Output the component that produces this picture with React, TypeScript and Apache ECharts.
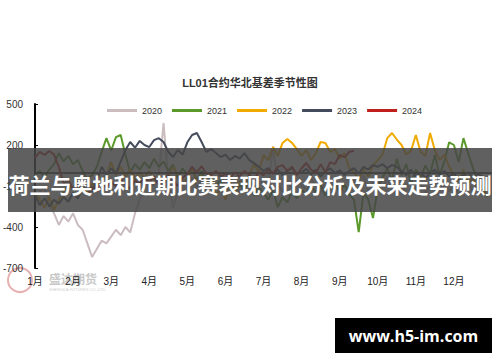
import React, { useEffect, useRef } from "react";
import * as echarts from "echarts";

const monthLabels = ["1月", "2月", "3月", "4月", "5月", "6月", "7月", "8月", "9月", "10月", "11月", "12月"];
const years = ["2020", "2021", "2022", "2023", "2024"];
const colors = ["#cbbcc0", "#5b9a2a", "#f0aa00", "#434b5c", "#c0201d"];
const STEP = 0.125; // sampling step in months (eighth of a month)

const v2020 = [
  -100, -140, -120, -240, -300, -385, -320, -360,
  -300, -385, -420, -520, -620, -560, -500, -520,
  -470, -420, -460, -400, -440, -300, -200, -120,
  -40, -100, -20, 360, -60, -260, -140, -60,
  -90, -40, -110, -60, -130, -80, -40, -100,
  -70, -120, -60, -150, -90, -50, -110, -80,
  -60, -100, 190, -90, -140, -70, -110, -60,
  -90, -130, -50, -100, -150, -80, -120, -60,
  -100, -150, -120, -60, -90, -20, -140, -80,
  -60, -110, -40, -130, -80, -150, -100, -60,
  -120, -80, -150, -100, -60, -130, -90, -140,
  -100, -160, -120, -80, -140, -110, -170, -130,
];
const v2021 = [
  -20, 10, -40, 20, 60, 140, 80, 120,
  60, 90, 10, -50, -20, 40, 150, 250,
  160, 258, 273, 127, 0, 60, 20, 75,
  30, 100, 40, 80, 10, 55, -40, 30,
  -20, 40, -60, 10, -80, -30, -100, -60,
  -120, -70, -150, -90, -130, -60, -170, -110,
  -150, -200, -130, -255, -180, -220, -140, -190,
  -130, -160, -100, -145, -90, -170, -120, -80,
  -140, -90, -160, -200, -437, -150, -200, -334,
  -120, -40, 30, -60, 100, -20, 60, -80,
  20, -40, 50, -10, 127, -20, 80, 220,
  200, 75, 250, 140, 30, -55, -120, -180,
];
const v2022 = [
  -150, -200, -260, -180, -275, -200, -140, -90,
  -130, -60, -110, -150, -80, -120, -55, -20,
  75, -20, 40, -30, 20, -50, 0, -40,
  10, -60, -20, -80, -30, 40, -20, -90,
  -40, 20, -60, -20, -100, -50, -165, -120,
  -200, -90, -140, -60, -100, -20, 60, 0,
  127, 90, 185, 120, 215, 244, 215, 170,
  120, 163, 90, 140, 222, 215, 150, 170,
  100, 140, 30, 0, -50, 20, -30, 50,
  90, 130, 250, 288, 240, 200, 130, 160,
  273, 150, 120, 288, 160, 90, 130, 40,
  -20, -60, 20, -80, -40, -120, -90, -180,
];
const v2023 = [
  -170, -240, -190, -250, -200, -230, -180, -215,
  -150, -190, -120, -90, -140, -60, 40, -20,
  30, -10, 80, 163, 222, 180, 230, 200,
  185, 236, 250, 222, 150, 112, 163, 130,
  220, 273, 288, 222, 150, 170, 141, 112,
  130, 90, 120, 100, 141, 90, 68, 40,
  10, 30, -10, 20, -20, 10, 30, -10,
  0, 25, -15, 20, -30, 5, 30, -5,
  15, -20, 10, 30, -10, 40, 20, 53,
  40, 60, 30, 55, 40, 10, -20, 20,
  -30, 0, -40, -10, 20, -20, 10, -30,
  -10, -50, -20, 0, -40, -10, -30, -60,
];
const v2024 = [
  105, 150, 127, 156, 130, 40, -80, -60,
  -120, -90, -130, -165, -110, -140, -80, -110,
  -70, -100, -50, -90, -120, -60, -80, -40,
  -70, -30, -90, -50, -20, -60, -100, -40,
  -10, 40, 0, 45, -10, -20, 10, -30,
  -10, -40, 0, -30, 10, -20, -50, 0,
  -20, 20, -10, 40, 53, 10, 40, -20,
  30, 68, 20, -5, 60, 0, 75, 60,
  127, 110, 150, 156,
];
const seriesValues = [v2020, v2021, v2022, v2023, v2024];

const yTicks = { min: -700, max: 500, interval: 300 };

export default function App() {
  const ref = useRef<HTMLDivElement>(null);
  useEffect(() => {
    if (!ref.current) return;
    const chart = echarts.init(ref.current, null, { renderer: "svg" });
    const font = "'Liberation Sans', 'Noto Sans CJK SC', sans-serif";
    const series: any[] = years.map((y, k) => ({
      name: y,
      type: "line",
      showSymbol: false,
      symbol: "none",
      data: seriesValues[k].map((v, i) => [1 + i * STEP, v]),
      lineStyle: { color: colors[k], width: 2 },
      itemStyle: { color: colors[k] },
      z: 2 + k,
    }));
    series[3].markLine = {
      silent: true,
      symbol: "none",
      label: { show: false },
      lineStyle: { color: "#000", width: 1.5, type: "solid" },
      data: [{ yAxis: 0 }],
    };
    chart.setOption({
      animation: false,
      textStyle: { fontFamily: font },
      title: {
        text: "LL01合约华北基差季节性图",
        left: "center",
        top: 72,
        textStyle: { fontSize: 11, fontWeight: "bold", color: "#333", fontFamily: font },
      },
      legend: {
        top: 101,
        left: 102,
        icon: "rect",
        itemWidth: 30,
        itemHeight: 3,
        itemGap: 10,
        textStyle: { fontSize: 9, color: "#333", fontFamily: font },
        data: years,
      },
      grid: { left: 35, right: 8, top: 104, bottom: 94, containLabel: false },
      xAxis: {
        type: "value",
        min: 1,
        max: 13,
        interval: 1,
        axisLine: { show: false, onZero: false },
        axisTick: { show: false },
        splitLine: { show: false },
        axisLabel: {
          fontSize: 10,
          color: "#222",
          margin: 8,
          formatter: (v: number) => (v >= 1 && v <= 12 ? monthLabels[Math.round(v) - 1] : ""),
        },
      },
      yAxis: {
        type: "value",
        min: yTicks.min,
        max: yTicks.max,
        interval: yTicks.interval,
        axisLine: { show: true, lineStyle: { color: "#000", width: 2 } },
        axisTick: { show: true, inside: true, length: 3, lineStyle: { color: "#000" } },
        splitLine: { show: false },
        axisLabel: { fontSize: 10, color: "#333", margin: 12 },
      },
      series,
      graphic: [
        {
          type: "circle",
          shape: { cx: 20, cy: 280, r: 12 },
          style: { fill: "none", stroke: "#e8b0b0", lineWidth: 2 },
          z: 0,
          silent: true,
        },
        {
          type: "text",
          left: 49,
          top: 272,
          style: { text: "盛达期货", fill: "#c8c8c8", fontSize: 12, fontWeight: "bold", fontFamily: "'Noto Sans CJK SC', sans-serif" },
          z: 0,
          silent: true,
        },
        {
          type: "text",
          left: 49,
          top: 287,
          style: { text: "SHENGDA FUTURES CO.,LTD", fill: "#d0d0d0", fontSize: 4, fontFamily: font },
          z: 0,
          silent: true,
        },
        {
          type: "rect",
          shape: { x: 8, y: 148, width: 484, height: 64 },
          style: { fill: "rgba(70,70,70,0.86)" },
          z: 100,
          silent: true,
        },
        {
          type: "text",
          x: 250,
          y: 184,
          style: {
            text: "荷兰与奥地利近期比赛表现对比分析及未来走势预测",
            fill: "#fff",
            fontSize: 21,
            fontWeight: "bold",
            fontFamily: "'Noto Sans CJK SC', sans-serif",
            align: "center",
            verticalAlign: "middle",
          },
          z: 101,
          silent: true,
        },
        {
          type: "rect",
          shape: { x: 335, y: 318, width: 157, height: 35 },
          style: { fill: "#000" },
          z: 100,
          silent: true,
        },
        {
          type: "text",
          x: 413.5,
          y: 335.5,
          style: {
            text: "www.h5-im.com",
            fill: "#fff",
            fontSize: 16,
            fontWeight: "bold",
            fontFamily: "'Open Sans', 'Liberation Sans', sans-serif",
            align: "center",
            verticalAlign: "middle",
          },
          z: 101,
          silent: true,
        },
      ],
    });
    return () => chart.dispose();
  }, []);
  return (
    <div
      ref={ref}
      style={{ position: "fixed", left: 0, top: 0, width: 500, height: 362, background: "#fff" }}
    />
  );
}
